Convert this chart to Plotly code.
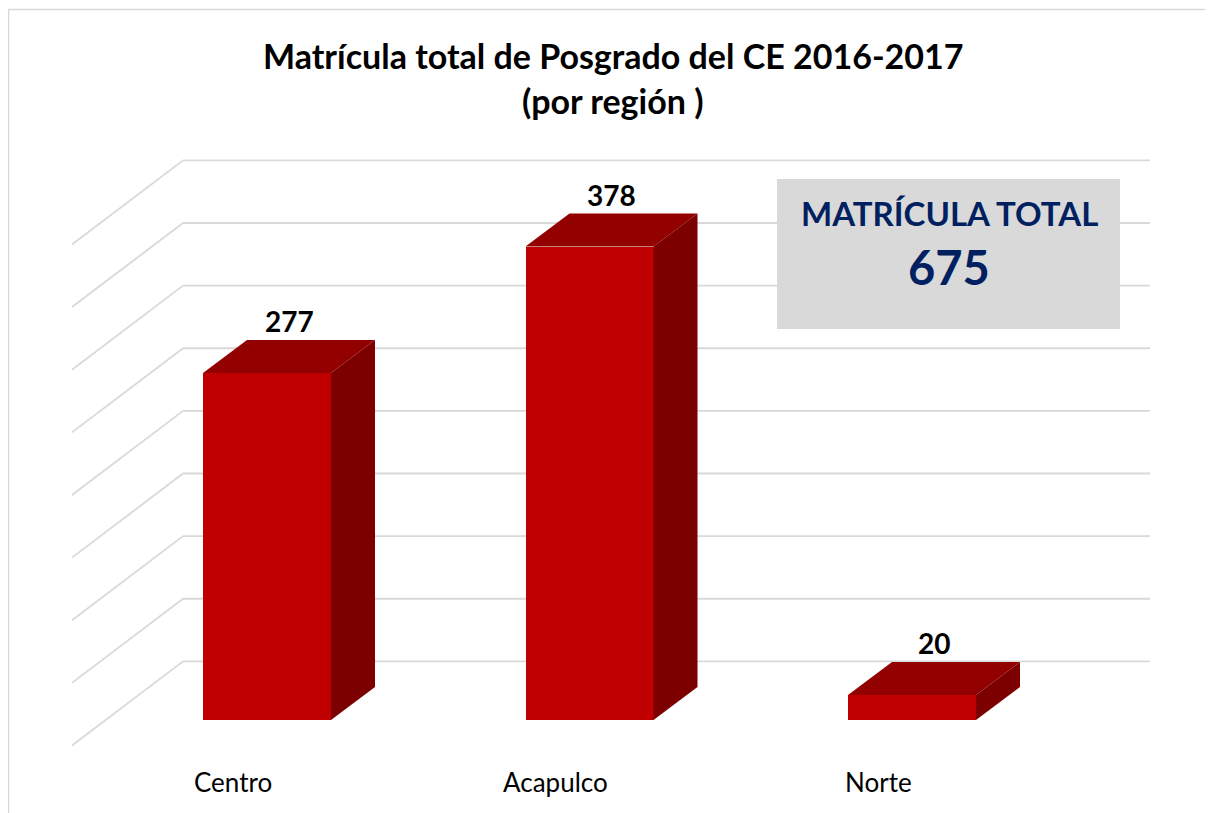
import plotly.graph_objects as go

# ---------------- data ----------------
categories = ["Centro", "Acapulco", "Norte"]
values = [277, 378, 20]
total_value = 675
grid_values = [0, 50, 100, 150, 200, 250, 300, 350, 400]
title_line1 = "Matrícula total de Posgrado del CE 2016-2017"
title_line2 = "(por región )"
box_label = "MATRÍCULA TOTAL"

# ---------------- geometry (pixels of the reference picture) ----------------
OFF = 8                                   # page body margin
W, H = 1213 - OFF, 813 - OFF
L, R, T, B = 57, 1164, 150, 750           # plot area in reference pixels
X0_PX, PX_PER_CAT = 267.0, 322.5          # first category centre, px per category
Y0_PX, PX_PER_UNIT = 720.0, 1.2526        # zero line, px per unit value

BAR_W = 128 / PX_PER_CAT                  # front face width (x units)
DDX = 44 / PX_PER_CAT                     # bar depth (x units)
DDY = 33 / PX_PER_UNIT                    # bar depth (y units)
WALL_BACK_X = (183 - X0_PX) / PX_PER_CAT
WALL_RIGHT_X = (1150 - X0_PX) / PX_PER_CAT
WALL_FRONT_X = (72 - X0_PX) / PX_PER_CAT
WALL_BACK_DY = 58.6 / PX_PER_UNIT
WALL_FRONT_DY = -25.5 / PX_PER_UNIT

def paper_x(px):
    return (px - L) / (R - L)

def paper_y(py):
    return (B - py) / (B - T)

FRONT = "#C00000"
TOP = "#920000"
SIDE = "#7C0000"
GRID = "#D9D9D9"
FONT = "Lato"

xs = list(range(len(categories)))

fig = go.Figure()

# front faces
fig.add_trace(go.Bar(x=xs, y=values, width=BAR_W, marker=dict(color=FRONT, line=dict(width=0)),
                     hoverinfo="skip", showlegend=False))

# top and side faces computed from the values
for x, v in zip(xs, values):
    xl, xr = x - BAR_W / 2, x + BAR_W / 2
    fig.add_trace(go.Scatter(
        x=[xl, xr, xr + DDX, xl + DDX, xl], y=[v, v, v + DDY, v + DDY, v],
        fill="toself", fillcolor=TOP, line=dict(width=0), mode="lines",
        hoverinfo="skip", showlegend=False))
    fig.add_trace(go.Scatter(
        x=[xr, xr, xr + DDX, xr + DDX, xr], y=[0, v, v + DDY, DDY, 0],
        fill="toself", fillcolor=SIDE, line=dict(width=0), mode="lines",
        hoverinfo="skip", showlegend=False))

shapes = []
# back wall and side wall gridlines
for g in grid_values:
    shapes.append(dict(type="line", xref="x", yref="y", layer="below",
                       x0=WALL_BACK_X, x1=WALL_RIGHT_X, y0=g + WALL_BACK_DY, y1=g + WALL_BACK_DY,
                       line=dict(color=GRID, width=1.8)))
    shapes.append(dict(type="line", xref="x", yref="y", layer="below",
                       x0=WALL_FRONT_X, x1=WALL_BACK_X, y0=g + WALL_FRONT_DY, y1=g + WALL_BACK_DY,
                       line=dict(color=GRID, width=1.8)))

# chart border (top & left visible)
shapes.append(dict(type="rect", xref="paper", yref="paper", layer="below",
                   x0=paper_x(8.5), x1=paper_x(1240), y0=paper_y(9.5), y1=paper_y(840),
                   line=dict(color=GRID, width=1.5), fillcolor="rgba(0,0,0,0)"))

# total box
shapes.append(dict(type="rect", xref="paper", yref="paper", layer="above",
                   x0=paper_x(777), x1=paper_x(1120), y0=paper_y(179), y1=paper_y(329),
                   line=dict(width=0), fillcolor="#D9D9D9"))

annotations = []
# value labels
for x, v in zip(xs, values):
    annotations.append(dict(x=x + DDX * 0.5, y=v + DDY, xref="x", yref="y",
                            text=f"<b>{v}</b>", showarrow=False, xanchor="center", yanchor="bottom",
                            font=dict(family=FONT, size=28, color="black")))
# category labels (Excel places them left of the bars on the floor)
for x, c in zip(xs, categories):
    annotations.append(dict(x=x - 34 / PX_PER_CAT, y=paper_y(782), xref="x", yref="paper",
                            text=c, showarrow=False, xanchor="center", yanchor="middle",
                            font=dict(family=FONT, size=26, color="black")))
# title
annotations.append(dict(x=paper_x(613), y=paper_y(56), xref="paper", yref="paper",
                        text=f"<b>{title_line1}</b>", showarrow=False, xanchor="center", yanchor="middle",
                        font=dict(family=FONT, size=34, color="black")))
annotations.append(dict(x=paper_x(613), y=paper_y(100), xref="paper", yref="paper",
                        text=f"<b>{title_line2}</b>", showarrow=False, xanchor="center", yanchor="middle",
                        font=dict(family=FONT, size=34, color="black")))
# box texts
annotations.append(dict(x=paper_x(949), y=paper_y(213), xref="paper", yref="paper",
                        text=f"<b>{box_label}</b>", showarrow=False, xanchor="center", yanchor="middle",
                        font=dict(family=FONT, size=33, color="#002060")))
annotations.append(dict(x=paper_x(949), y=paper_y(267), xref="paper", yref="paper",
                        text=f"<b>{total_value}</b>", showarrow=False, xanchor="center", yanchor="middle",
                        font=dict(family=FONT, size=47, color="#002060")))

fig.update_layout(
    width=W, height=H,
    margin=dict(l=L - OFF, r=W - (R - OFF), t=T - OFF, b=H - (B - OFF), autoexpand=False),
    paper_bgcolor="white", plot_bgcolor="white",
    showlegend=False,
    shapes=shapes, annotations=annotations,
    xaxis=dict(range=[(L - X0_PX) / PX_PER_CAT, (R - X0_PX) / PX_PER_CAT],
               visible=False, fixedrange=True),
    yaxis=dict(range=[(Y0_PX - B) / PX_PER_UNIT, (Y0_PX - T) / PX_PER_UNIT],
               visible=False, fixedrange=True),
    bargap=0,
)

fig.write_html("out.html")
